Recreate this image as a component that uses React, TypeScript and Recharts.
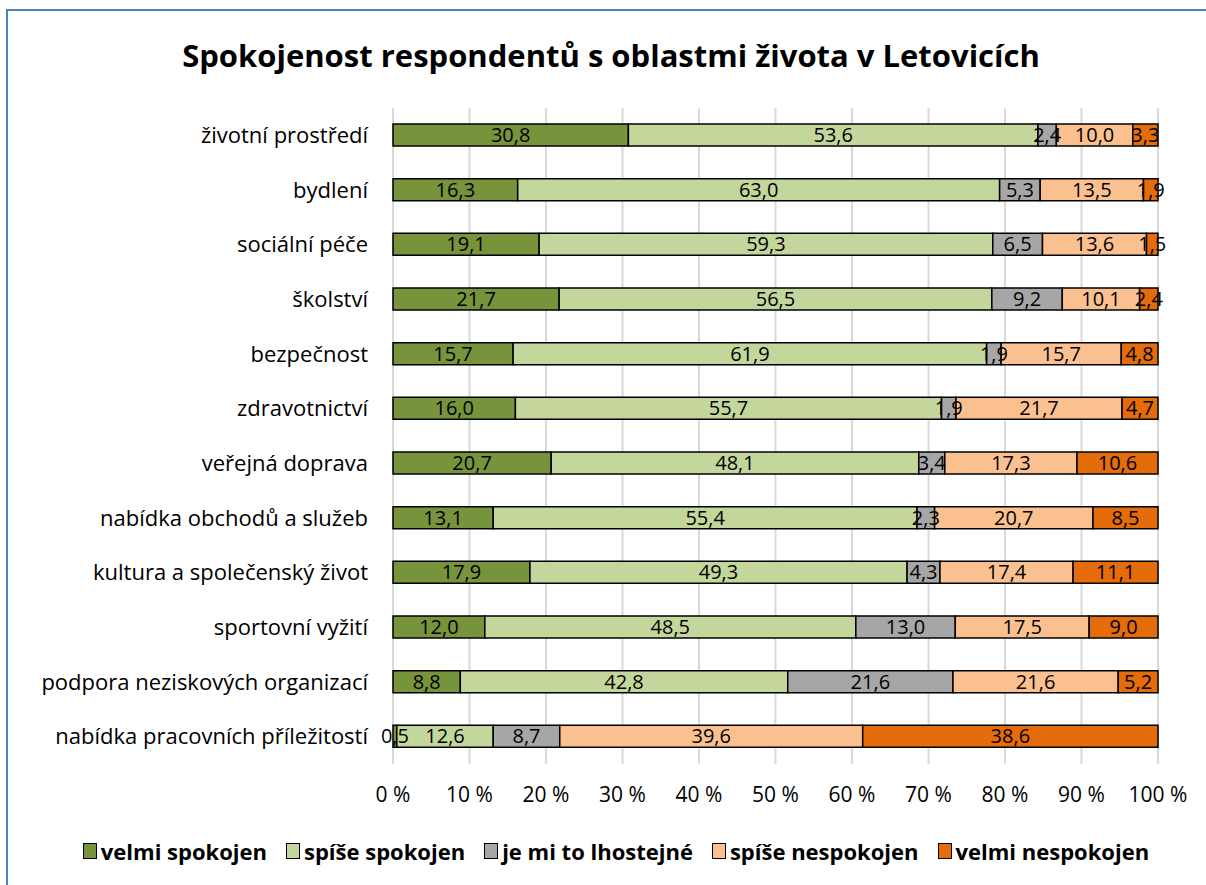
import { BarChart, Bar, XAxis, YAxis, CartesianGrid, LabelList } from 'recharts';

const categories = [
  'životní prostředí',
  'bydlení',
  'sociální péče',
  'školství',
  'bezpečnost',
  'zdravotnictví',
  'veřejná doprava',
  'nabídka obchodů a služeb',
  'kultura a společenský život',
  'sportovní vyžití',
  'podpora neziskových organizací',
  'nabídka pracovních příležitostí',
];

const velmiSpokojen = [30.8, 16.3, 19.1, 21.7, 15.7, 16.0, 20.7, 13.1, 17.9, 12.0, 8.8, 0.5];
const spiseSpokojen = [53.6, 63.0, 59.3, 56.5, 61.9, 55.7, 48.1, 55.4, 49.3, 48.5, 42.8, 12.6];
const lhostejne = [2.4, 5.3, 6.5, 9.2, 1.9, 1.9, 3.4, 2.3, 4.3, 13.0, 21.6, 8.7];
const spiseNespokojen = [10.0, 13.5, 13.6, 10.1, 15.7, 21.7, 17.3, 20.7, 17.4, 17.5, 21.6, 39.6];
const velmiNespokojen = [3.3, 1.9, 1.5, 2.4, 4.8, 4.7, 10.6, 8.5, 11.1, 9.0, 5.2, 38.6];

const xTicks = [0, 0.1, 0.2, 0.3, 0.4, 0.5, 0.6, 0.7, 0.8, 0.9, 1];

const series = [
  { key: 'vs', name: 'velmi spokojen', color: '#77933c' },
  { key: 'ss', name: 'spíše spokojen', color: '#c3d69b' },
  { key: 'lh', name: 'je mi to lhostejné', color: '#a6a6a6' },
  { key: 'sn', name: 'spíše nespokojen', color: '#fac090' },
  { key: 'vn', name: 'velmi nespokojen', color: '#e46c0a' },
];

const data = categories.map((name, i) => ({
  name,
  vs: velmiSpokojen[i],
  ss: spiseSpokojen[i],
  lh: lhostejne[i],
  sn: spiseNespokojen[i],
  vn: velmiNespokojen[i],
}));

const FONT = '"Open Sans", sans-serif';

const fmt = (v: any) => Number(v).toFixed(1).replace('.', ',');

export default function App() {
  return (
    <div
      style={{
        position: 'fixed',
        left: 0,
        top: 0,
        width: 1206,
        height: 885,
        overflow: 'hidden',
        background: '#fff',
        fontFamily: FONT,
      }}
    >
      {/* chart frame: only top and left edges fall inside the picture */}
      <div
        style={{
          position: 'absolute',
          left: 6,
          top: 9,
          width: 1600,
          height: 1400,
          borderTop: '2px solid #4f81bd',
          borderLeft: '2px solid #4f81bd',
        }}
      />
      <div
        style={{
          position: 'absolute',
          left: 0,
          top: 34,
          width: 1222,
          textAlign: 'center',
          fontSize: 31,
          fontWeight: 700,
          color: '#000',
          whiteSpace: 'nowrap',
        }}
      >
        Spokojenost respondentů s oblastmi života v Letovicích
      </div>
      <div style={{ position: 'absolute', left: 0, top: 0 }}>
        <BarChart
          width={1206}
          height={885}
          data={data}
          layout="vertical"
          stackOffset="expand"
          margin={{ top: 108, right: 48, left: 0, bottom: 84 }}
        >
          <CartesianGrid horizontal={false} stroke="#d9d9d9" strokeWidth={2} />
          <XAxis
            type="number"
            domain={[0, 1]}
            ticks={xTicks}
            axisLine={false}
            tickLine={false}
            tickMargin={17}
            height={37}
            tick={{ fill: '#000', fontSize: 21, fontFamily: FONT }}
            tickFormatter={(v: number) => `${Math.round(v * 100)} %`}
            interval={0}
          />
          <YAxis
            type="category"
            dataKey="name"
            width={393}
            axisLine={false}
            tickLine={false}
            tickMargin={19}
            interval={0}
            tick={{ fill: '#000', fontSize: 22, fontFamily: FONT }}
          />
          {series.map((s) => (
            <Bar
              key={s.key}
              dataKey={s.key}
              name={s.name}
              stackId="a"
              fill={s.color}
              stroke="#000"
              strokeWidth={1.5}
              barSize={22}
              isAnimationActive={false}
            >
              <LabelList
                dataKey={s.key}
                position="center"
                formatter={fmt}
                style={{ fill: '#000', fontSize: 20, fontFamily: FONT }}
              />
            </Bar>
          ))}
        </BarChart>
      </div>
      <div
        style={{
          position: 'absolute',
          left: 0,
          top: 836,
          width: 1232,
          display: 'flex',
          justifyContent: 'center',
          gap: 19,
          fontSize: 22,
          fontWeight: 700,
          color: '#000',
          whiteSpace: 'nowrap',
        }}
      >
        {series.map((s) => (
          <div key={s.key} style={{ display: 'flex', alignItems: 'center' }}>
            <span
              style={{
                display: 'inline-block',
                width: 12,
                height: 14,
                background: s.color,
                border: '1.5px solid #000',
                marginRight: 4,
              }}
            />
            {s.name}
          </div>
        ))}
      </div>
    </div>
  );
}
